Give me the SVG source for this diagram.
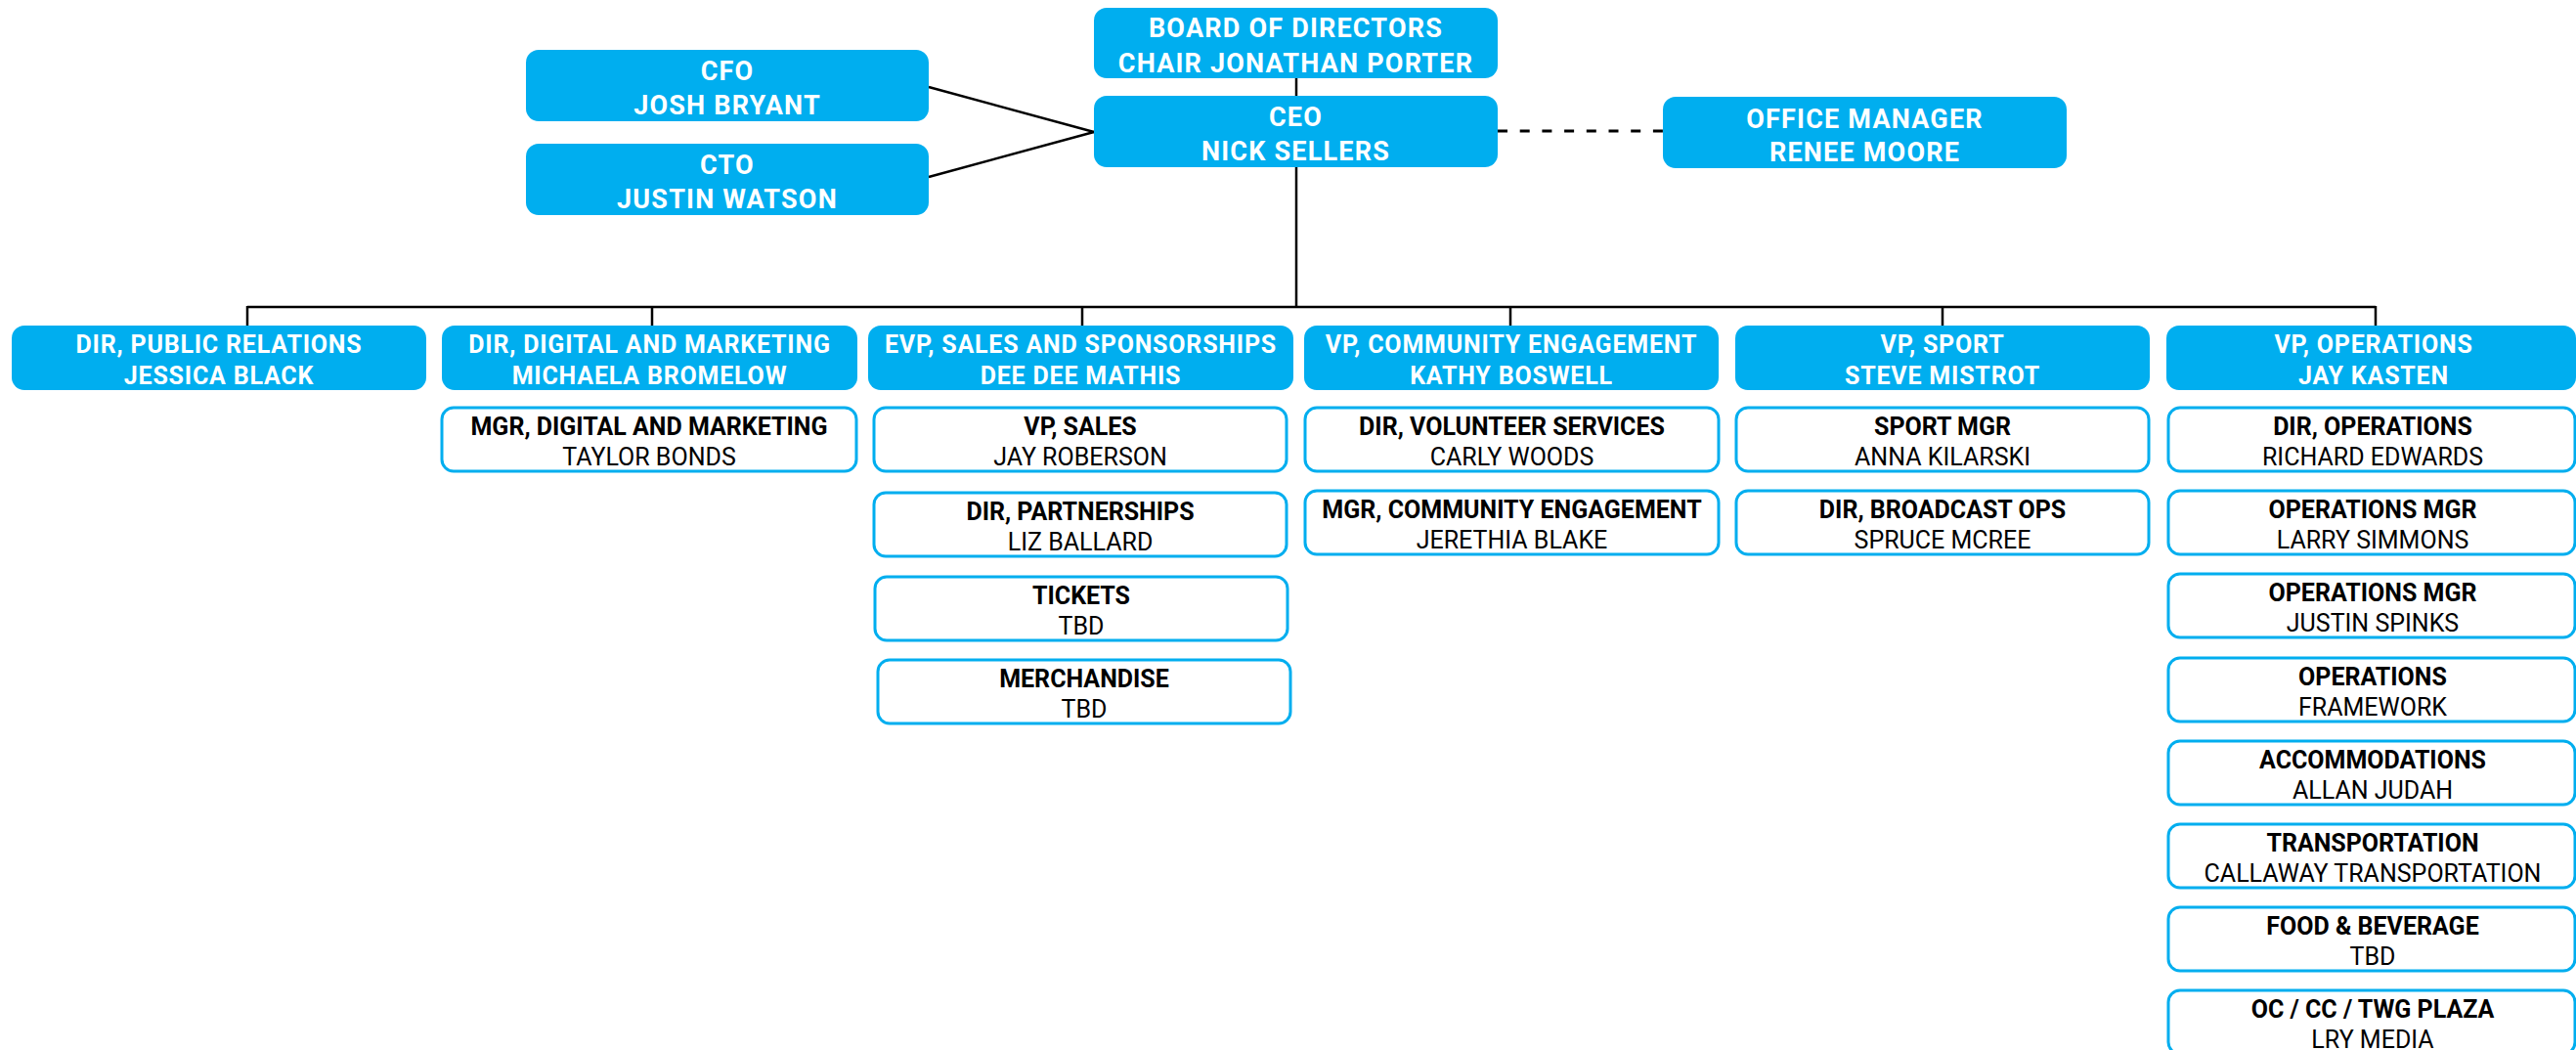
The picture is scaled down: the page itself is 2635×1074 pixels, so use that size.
<svg xmlns="http://www.w3.org/2000/svg" width="2635" height="1074" viewBox="0 0 2635 1074">
<style>
.f{fill:#00AEEF}
.o{fill:#fff;stroke:#00AEEF;stroke-width:3}
text{font-family:Roboto,"Liberation Sans",sans-serif;font-size:25px;text-anchor:middle}
.w{fill:#fff;font-weight:700;letter-spacing:0.8px}
.b{fill:#000;font-weight:700}
.n{fill:#000;font-weight:400}
.g{font-size:27px;letter-spacing:1.2px}
.c{stroke:#000;stroke-width:2.5;fill:none}
.d{stroke:#000;stroke-width:3;fill:none;stroke-dasharray:10 12.7}
</style>
<rect width="2635" height="1074" fill="#fff"/>
<g id="connectors">
<path class="c" d="M1326 80V98"/>
<path class="c" d="M950 89L1119 135"/>
<path class="c" d="M950 181L1119 135"/>
<path class="d" d="M1532 134H1701"/>
<path class="c" d="M1326 171V314"/>
<path class="c" d="M253 314H2430"/>
<path class="c" d="M253 313V333M667 313V333M1107 313V333M1545 313V333M1987 313V333M2430 313V333"/>
</g>
<g id="board"><rect class="f" x="1119" y="8" width="413" height="72" rx="13"/><text class="w g" x="1325.5" y="38">BOARD OF DIRECTORS</text><text class="w g" x="1325.5" y="74">CHAIR JONATHAN PORTER</text></g>
<g id="cfo"><rect class="f" x="538" y="51" width="412" height="73" rx="13"/><text class="w g" x="744" y="82">CFO</text><text class="w g" x="744" y="117">JOSH BRYANT</text></g>
<g id="cto"><rect class="f" x="538" y="147" width="412" height="73" rx="13"/><text class="w g" x="744" y="178">CTO</text><text class="w g" x="744" y="213">JUSTIN WATSON</text></g>
<g id="ceo"><rect class="f" x="1119" y="98" width="413" height="73" rx="13"/><text class="w g" x="1325.5" y="129">CEO</text><text class="w g" x="1325.5" y="164">NICK SELLERS</text></g>
<g id="office"><rect class="f" x="1701" y="99" width="413" height="73" rx="13"/><text class="w g" x="1907.5" y="131">OFFICE MANAGER</text><text class="w g" x="1907.5" y="165">RENEE MOORE</text></g>

<g id="pr"><rect class="f" x="12" y="333" width="424" height="66" rx="13"/><text class="w" x="224" y="361">DIR, PUBLIC RELATIONS</text><text class="w" x="224" y="393">JESSICA BLACK</text></g>
<g id="digital"><rect class="f" x="452" y="333" width="425" height="66" rx="13"/><text class="w" x="664.5" y="361">DIR, DIGITAL AND MARKETING</text><text class="w" x="664.5" y="393">MICHAELA BROMELOW</text></g>
<g id="evp"><rect class="f" x="888" y="333" width="435" height="66" rx="13"/><text class="w" x="1105.5" y="361">EVP, SALES AND SPONSORSHIPS</text><text class="w" x="1105.5" y="393">DEE DEE MATHIS</text></g>
<g id="community"><rect class="f" x="1334" y="333" width="424" height="66" rx="13"/><text class="w" x="1546" y="361">VP, COMMUNITY ENGAGEMENT</text><text class="w" x="1546" y="393">KATHY BOSWELL</text></g>
<g id="sport"><rect class="f" x="1775" y="333" width="424" height="66" rx="13"/><text class="w" x="1987" y="361">VP, SPORT</text><text class="w" x="1987" y="393">STEVE MISTROT</text></g>
<g id="operations"><rect class="f" x="2216" y="333" width="419" height="66" rx="13"/><text class="w" x="2428" y="361">VP, OPERATIONS</text><text class="w" x="2428" y="393">JAY KASTEN</text></g>

<g id="mgr-digital"><rect class="o" x="452" y="417" width="424" height="65" rx="12"/><text class="b" x="664" y="445">MGR, DIGITAL AND MARKETING</text><text class="n" x="664" y="476">TAYLOR BONDS</text></g>

<g id="vp-sales"><rect class="o" x="894" y="417" width="422" height="65" rx="12"/><text class="b" x="1105" y="445">VP, SALES</text><text class="n" x="1105" y="476">JAY ROBERSON</text></g>
<g id="partnerships"><rect class="o" x="894" y="504" width="422" height="65" rx="12"/><text class="b" x="1105" y="532">DIR, PARTNERSHIPS</text><text class="n" x="1105" y="563">LIZ BALLARD</text></g>
<g id="tickets"><rect class="o" x="895" y="590" width="422" height="65" rx="12"/><text class="b" x="1106" y="618">TICKETS</text><text class="n" x="1106" y="649">TBD</text></g>
<g id="merch"><rect class="o" x="898" y="675" width="422" height="65" rx="12"/><text class="b" x="1109" y="703">MERCHANDISE</text><text class="n" x="1109" y="734">TBD</text></g>

<g id="volunteer"><rect class="o" x="1335" y="417" width="423" height="65" rx="12"/><text class="b" x="1546.5" y="445">DIR, VOLUNTEER SERVICES</text><text class="n" x="1546.5" y="476">CARLY WOODS</text></g>
<g id="mgr-community"><rect class="o" x="1335" y="502" width="423" height="65" rx="12"/><text class="b" x="1546.5" y="530">MGR, COMMUNITY ENGAGEMENT</text><text class="n" x="1546.5" y="561">JERETHIA BLAKE</text></g>

<g id="sport-mgr"><rect class="o" x="1776" y="417" width="422" height="65" rx="12"/><text class="b" x="1987" y="445">SPORT MGR</text><text class="n" x="1987" y="476">ANNA KILARSKI</text></g>
<g id="broadcast"><rect class="o" x="1776" y="502" width="422" height="65" rx="12"/><text class="b" x="1987" y="530">DIR, BROADCAST OPS</text><text class="n" x="1987" y="561">SPRUCE MCREE</text></g>

<g id="dir-ops"><rect class="o" x="2218" y="417" width="416" height="65" rx="12"/><text class="b" x="2427" y="445">DIR, OPERATIONS</text><text class="n" x="2427" y="476">RICHARD EDWARDS</text></g>
<g id="ops-mgr-1"><rect class="o" x="2218" y="502" width="416" height="65" rx="12"/><text class="b" x="2427" y="530">OPERATIONS MGR</text><text class="n" x="2427" y="561">LARRY SIMMONS</text></g>
<g id="ops-mgr-2"><rect class="o" x="2218" y="587" width="416" height="65" rx="12"/><text class="b" x="2427" y="615">OPERATIONS MGR</text><text class="n" x="2427" y="646">JUSTIN SPINKS</text></g>
<g id="ops-framework"><rect class="o" x="2218" y="673" width="416" height="65" rx="12"/><text class="b" x="2427" y="701">OPERATIONS</text><text class="n" x="2427" y="732">FRAMEWORK</text></g>
<g id="accommodations"><rect class="o" x="2218" y="758" width="416" height="65" rx="12"/><text class="b" x="2427" y="786">ACCOMMODATIONS</text><text class="n" x="2427" y="817">ALLAN JUDAH</text></g>
<g id="transportation"><rect class="o" x="2218" y="843" width="416" height="65" rx="12"/><text class="b" x="2427" y="871">TRANSPORTATION</text><text class="n" x="2427" y="902">CALLAWAY TRANSPORTATION</text></g>
<g id="food"><rect class="o" x="2218" y="928" width="416" height="65" rx="12"/><text class="b" x="2427" y="956">FOOD &amp; BEVERAGE</text><text class="n" x="2427" y="987">TBD</text></g>
<g id="plaza"><rect class="o" x="2218" y="1013" width="416" height="65" rx="12"/><text class="b" x="2427" y="1041">OC / CC / TWG PLAZA</text><text class="n" x="2427" y="1072">LRY MEDIA</text></g>
</svg>
